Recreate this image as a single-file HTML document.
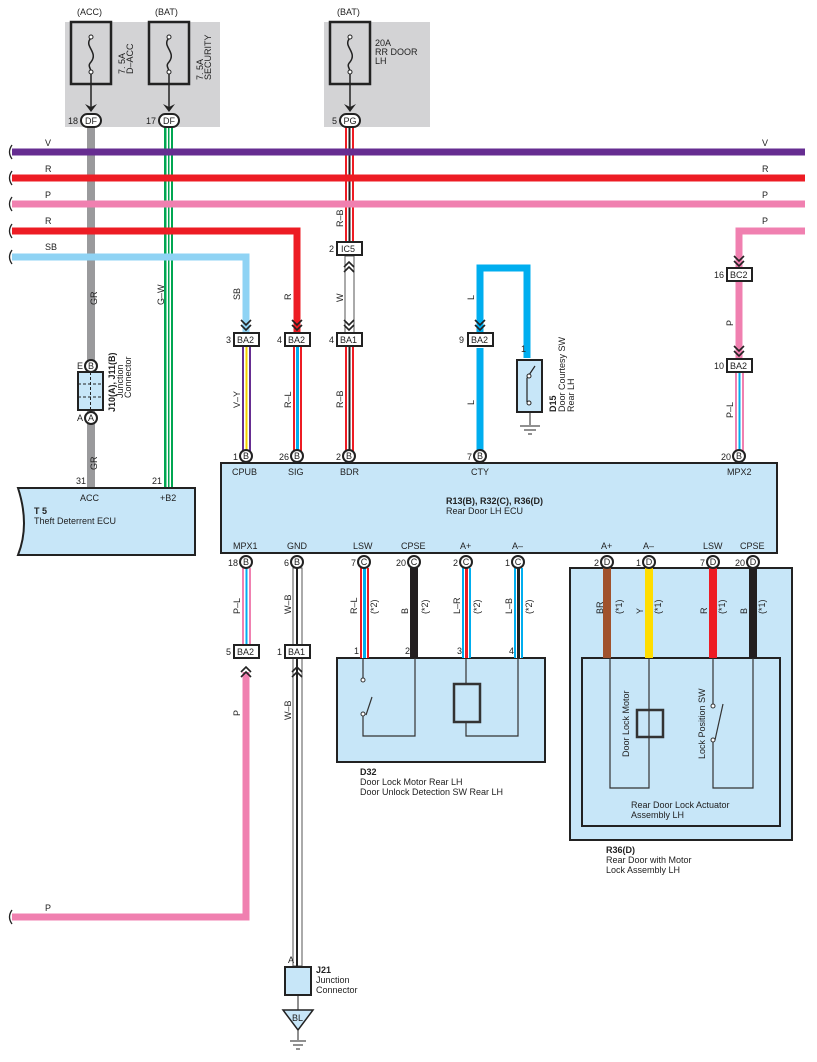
<!DOCTYPE html>
<html><head><meta charset="utf-8"><style>
html,body{margin:0;padding:0;background:#fff}
svg{display:block}
text{font-family:"Liberation Sans",sans-serif;font-size:9px;fill:#222}
.b{font-weight:bold}
</style></head><body>
<svg width="817" height="1062" viewBox="0 0 817 1062" xmlns="http://www.w3.org/2000/svg">
<!-- fuse gray areas -->
<rect x="65" y="22" width="155" height="105" fill="#d3d3d5"/>
<rect x="324" y="22" width="106" height="105" fill="#d3d3d5"/>
<g fill="none" stroke="#222" stroke-width="2.5">
<rect x="71" y="22" width="40" height="62"/>
<rect x="149" y="22" width="40" height="62"/>
<rect x="330" y="22" width="40" height="62"/>
</g>
<g fill="none" stroke="#222" stroke-width="1.5">
<path d="M91 38 c-8 8 8 14 0 24 c-4 4 0 6 0 10"/>
<path d="M169 38 c-8 8 8 14 0 24 c-4 4 0 6 0 10"/>
<path d="M350 38 c-8 8 8 14 0 24 c-4 4 0 6 0 10"/>
<line x1="91" y1="72" x2="91" y2="108"/><line x1="169" y1="72" x2="169" y2="108"/><line x1="350" y1="72" x2="350" y2="108"/>
</g>
<g fill="#fff" stroke="#222" stroke-width="1"><circle cx="91" cy="37" r="2"/><circle cx="91" cy="72" r="2"/><circle cx="169" cy="37" r="2"/><circle cx="169" cy="72" r="2"/><circle cx="350" cy="37" r="2"/><circle cx="350" cy="72" r="2"/></g>
<g fill="#222"><path d="M85 104 l6 8 6-8 -6 3z"/><path d="M163 104 l6 8 6-8 -6 3z"/><path d="M344 104 l6 8 6-8 -6 3z"/></g>
<text x="77" y="15">(ACC)</text><text x="155" y="15">(BAT)</text><text x="337" y="15">(BAT)</text>
<text transform="translate(125,74) rotate(-90)">7. 5A</text><text transform="translate(133,74) rotate(-90)">D–ACC</text>
<text transform="translate(203,80) rotate(-90)">7. 5A</text><text transform="translate(211,80) rotate(-90)">SECURITY</text>
<text x="375" y="46">20A</text><text x="375" y="55">RR DOOR</text><text x="375" y="64">LH</text>

<!-- vertical wires top -->
<rect x="87" y="126" width="8" height="362" fill="#9a9a9c"/>
<g><rect x="164" y="126" width="9" height="362" fill="#00a651"/><rect x="166.5" y="126" width="1.5" height="362" fill="#fff"/><rect x="169.5" y="126" width="1.5" height="362" fill="#fff"/></g>
<g><rect x="345" y="126" width="9" height="116" fill="#ed1c24"/><rect x="347" y="126" width="1.5" height="116" fill="#fff"/><rect x="350.5" y="126" width="1.5" height="116" fill="#fff"/><rect x="348.5" y="126" width="2" height="116" fill="#222"/></g>
<!-- horizontal wires -->
<g fill="none" stroke-width="7">
<path d="M12 152 H805" stroke="#662d91"/>
<path d="M12 178 H805" stroke="#ed1c24"/>
<path d="M12 204 H805" stroke="#f080b0"/>
<path d="M12 231 H297 V332" stroke="#ed1c24"/>
<path d="M12 257 H246 V332" stroke="#8fd3f4"/>
<path d="M805 231 H739 V268" stroke="#f080b0"/>
<path d="M739 282 V358" stroke="#f080b0"/>
<path d="M480 334 V268 H527 V358" stroke="#00aeef"/>
<path d="M480 348 V450" stroke="#00aeef"/>
</g>
<g fill="none" stroke="#222" stroke-width="1.3"><path d="M12 145 q-5 7 0 14 M12 171 q-5 7 0 14 M12 197 q-5 7 0 14 M12 224 q-5 7 0 14 M12 250 q-5 7 0 14"/></g>
<text x="762" y="146">V</text><text x="762" y="172">R</text><text x="762" y="198">P</text><text x="762" y="224">P</text>
<text x="45" y="146">V</text><text x="45" y="172">R</text><text x="45" y="198">P</text><text x="45" y="224">R</text><text x="45" y="250">SB</text>
<!-- W wire -->
<g><rect x="345" y="256" width="9" height="82" fill="#fff" stroke="#555" stroke-width="1"/></g>
<!-- lower wires -->
<g><rect x="242" y="346" width="9" height="106" fill="#662d91"/><rect x="244" y="346" width="5" height="106" fill="#fff"/><rect x="245.5" y="346" width="2" height="106" fill="#f5d000"/></g>
<g><rect x="293" y="346" width="9" height="106" fill="#ed1c24"/><rect x="295" y="346" width="5" height="106" fill="#fff"/><rect x="296" y="346" width="3" height="106" fill="#00aeef"/></g>
<g><rect x="345" y="346" width="9" height="106" fill="#ed1c24"/><rect x="347" y="346" width="5" height="106" fill="#fff"/><rect x="348.5" y="346" width="2" height="106" fill="#222"/></g>
<g><rect x="735" y="372" width="9" height="80" fill="#f080b0"/><rect x="737" y="372" width="5" height="80" fill="#fff"/><rect x="738.5" y="372" width="2" height="80" fill="#00aeef"/></g>
<g font-size="9">
<text transform="translate(97,305) rotate(-90)">GR</text><text transform="translate(97,470) rotate(-90)">GR</text>
<text transform="translate(164,305) rotate(-90)">G–W</text>
<text transform="translate(240,300) rotate(-90)">SB</text><text transform="translate(291,300) rotate(-90)">R</text>
<text transform="translate(343,227) rotate(-90)">R–B</text><text transform="translate(343,302) rotate(-90)">W</text>
<text transform="translate(240,408) rotate(-90)">V–Y</text><text transform="translate(291,408) rotate(-90)">R–L</text><text transform="translate(343,408) rotate(-90)">R–B</text>
<text transform="translate(474,300) rotate(-90)">L</text><text transform="translate(474,405) rotate(-90)">L</text>
<text transform="translate(733,326) rotate(-90)">P</text><text transform="translate(733,418) rotate(-90)">P–L</text>
</g>
<!-- D15 switch -->
<rect x="517" y="360" width="25" height="52" fill="#c7e6f8" stroke="#222" stroke-width="2"/>
<path d="M527 378 l8 -12 M527 402 V378" stroke="#222" fill="none" stroke-width="1.2"/>
<circle cx="529" cy="376" r="2" fill="#fff" stroke="#222"/><circle cx="529" cy="403" r="2" fill="#fff" stroke="#222"/>
<path d="M530 412 V425 M520 426 H540 M524 430 H536 M528 434 H532" stroke="#222" fill="none"/>
<text x="521" y="352">1</text>
<text class="b" transform="translate(556,412) rotate(-90)">D15</text>
<text transform="translate(565,412) rotate(-90)">Door Courtesy SW</text><text transform="translate(574,412) rotate(-90)">Rear LH</text>
<!-- J10 -->
<rect x="78" y="372" width="25" height="38" fill="#c7e6f8" stroke="#222" stroke-width="2"/>
<path d="M90.5 372 V410 M78 384 H103 M78 397 H103" stroke="#222" stroke-dasharray="3 2"/>
<text class="b" transform="translate(115,412) rotate(-90)">J10(A), J11(B)</text>
<text transform="translate(123,398) rotate(-90)">Junction</text><text transform="translate(131,398) rotate(-90)">Connector</text>
<!-- T5 -->
<path d="M18 488 H195 V555 H18 q12 -30 0 -67z" fill="#c7e6f8" stroke="#222" stroke-width="2"/>
<text x="80" y="501">ACC</text><text x="160" y="501">+B2</text><text class="b" x="34" y="514">T 5</text><text x="34" y="524">Theft Deterrent ECU</text>
<text x="76" y="484">31</text><text x="152" y="484">21</text>
<!-- ECU -->
<rect x="221" y="463" width="556" height="90" fill="#c7e6f8" stroke="#222" stroke-width="2"/>
<text class="b" x="446" y="504">R13(B), R32(C), R36(D)</text><text x="446" y="514">Rear Door LH ECU</text>
<text x="232" y="475">CPUB</text><text x="288" y="475">SIG</text><text x="340" y="475">BDR</text><text x="471" y="475">CTY</text><text x="727" y="475">MPX2</text>
<text x="233" y="549">MPX1</text><text x="287" y="549">GND</text><text x="353" y="549">LSW</text><text x="401" y="549">CPSE</text><text x="460" y="549">A+</text><text x="512" y="549">A–</text>
<text x="601" y="549">A+</text><text x="643" y="549">A–</text><text x="703" y="549">LSW</text><text x="740" y="549">CPSE</text>
<!-- R36 boxes -->
<rect x="570" y="568" width="222" height="272" fill="#c7e6f8" stroke="#222" stroke-width="2"/>
<rect x="582" y="658" width="198" height="168" fill="#c7e6f8" stroke="#222" stroke-width="2"/>
<rect x="337" y="658" width="208" height="104" fill="#c7e6f8" stroke="#222" stroke-width="2"/>
<!-- lower wires -->
<g><rect x="242" y="568" width="9" height="78" fill="#f080b0"/><rect x="244" y="568" width="5" height="78" fill="#fff"/><rect x="245.5" y="568" width="2" height="78" fill="#00aeef"/></g>
<g><rect x="293" y="568" width="9" height="78" fill="#fff" stroke="#555"/><rect x="296" y="568" width="2" height="78" fill="#222"/></g>
<g><rect x="293" y="658" width="9" height="308" fill="#fff" stroke="#555"/><rect x="296" y="658" width="2" height="308" fill="#222"/></g>
<path d="M246 672 V917 H12" stroke="#f080b0" stroke-width="7" fill="none"/>
<path d="M12 910 q-5 7 0 14" stroke="#222" fill="none" stroke-width="1.3"/>
<text x="45" y="911">P</text>
<g><rect x="360" y="568" width="9" height="90" fill="#ed1c24"/><rect x="362" y="568" width="5" height="90" fill="#fff"/><rect x="363" y="568" width="3" height="90" fill="#00aeef"/></g>
<rect x="410" y="568" width="8" height="90" fill="#231f20"/>
<g><rect x="462" y="568" width="9" height="90" fill="#00aeef"/><rect x="464" y="568" width="5" height="90" fill="#fff"/><rect x="465" y="568" width="3" height="90" fill="#ed1c24"/></g>
<g><rect x="514" y="568" width="9" height="90" fill="#00aeef"/><rect x="516" y="568" width="5" height="90" fill="#fff"/><rect x="517" y="568" width="3" height="90" fill="#222"/></g>
<rect x="603" y="568" width="8" height="90" fill="#a0522d"/>
<rect x="645" y="568" width="8" height="90" fill="#ffdd00"/>
<rect x="709" y="568" width="8" height="90" fill="#ed1c24"/>
<rect x="749" y="568" width="8" height="90" fill="#231f20"/>
<g>
<text transform="translate(240,614) rotate(-90)">P–L</text><text transform="translate(291,614) rotate(-90)">W–B</text>
<text transform="translate(240,716) rotate(-90)">P</text><text transform="translate(291,720) rotate(-90)">W–B</text>
<text transform="translate(357,614) rotate(-90)">R–L</text><text transform="translate(408,614) rotate(-90)">B</text><text transform="translate(460,614) rotate(-90)">L–R</text><text transform="translate(512,614) rotate(-90)">L–B</text>
<text transform="translate(377,614) rotate(-90)">(*2)</text><text transform="translate(428,614) rotate(-90)">(*2)</text><text transform="translate(480,614) rotate(-90)">(*2)</text><text transform="translate(532,614) rotate(-90)">(*2)</text>
<text transform="translate(603,614) rotate(-90)">BR</text><text transform="translate(643,614) rotate(-90)">Y</text><text transform="translate(707,614) rotate(-90)">R</text><text transform="translate(747,614) rotate(-90)">B</text>
<text transform="translate(622,614) rotate(-90)">(*1)</text><text transform="translate(661,614) rotate(-90)">(*1)</text><text transform="translate(725,614) rotate(-90)">(*1)</text><text transform="translate(765,614) rotate(-90)">(*1)</text>
</g>
<text x="354" y="654">1</text><text x="405" y="654">2</text><text x="457" y="654">3</text><text x="509" y="654">4</text>
<!-- D32 internals -->
<g fill="none" stroke="#333" stroke-width="1.2">
<path d="M363 658 V680 M363 714 V736 H415 V658 M366 715 L372 697"/>
<path d="M466 658 V684 M466 722 V736 H518 V658"/>
<rect x="454" y="684" width="26" height="38" stroke-width="2.5"/>
<path d="M610 658 V788 H649 V658"/><rect x="637" y="710" width="26" height="27" stroke-width="2.5"/>
<path d="M713 658 V705 M713 740 V788 H753 V658 M715 740 L723 704"/>
</g>
<g fill="#fff" stroke="#333"><circle cx="363" cy="680" r="2"/><circle cx="363" cy="714" r="2"/><circle cx="713" cy="706" r="2"/><circle cx="713" cy="740" r="2"/></g>
<text transform="translate(629,757) rotate(-90)">Door Lock Motor</text>
<text transform="translate(705,759) rotate(-90)">Lock Position SW</text>
<text x="631" y="808">Rear Door Lock Actuator</text><text x="631" y="818">Assembly LH</text>
<text class="b" x="360" y="775">D32</text><text x="360" y="785">Door Lock Motor Rear LH</text><text x="360" y="795">Door Unlock Detection SW Rear LH</text>
<text class="b" x="606" y="853">R36(D)</text><text x="606" y="863">Rear Door with Motor</text><text x="606" y="873">Lock Assembly LH</text>
<!-- J21 and ground -->
<rect x="285" y="967" width="26" height="28" fill="#c7e6f8" stroke="#222" stroke-width="2"/>
<text x="288" y="963">A</text>
<path d="M298 995 V1010" stroke="#222"/>
<path d="M283 1010 H313 L298 1030z" fill="#c7e6f8" stroke="#222" stroke-width="1.5"/>
<text x="292" y="1021" font-size="8">BL</text>
<path d="M298 1030 V1040 M290 1041 H306 M293 1045 H303 M296 1049 H300" stroke="#222"/>
<text class="b" x="316" y="973">J21</text><text x="316" y="983">Junction</text><text x="316" y="993">Connector</text>
<!-- arrow chevrons for in-line connectors -->
<g fill="none" stroke="#222" stroke-width="1.6">
<path d="M241 320 l5 5 5-5 M241 325 l5 5 5-5"/><path d="M292 320 l5 5 5-5 M292 325 l5 5 5-5"/>
<path d="M344 320 l5 5 5-5 M344 325 l5 5 5-5"/><path d="M475 320 l5 5 5-5 M475 325 l5 5 5-5"/>
<path d="M734 346 l5 5 5-5 M734 351 l5 5 5-5"/><path d="M734 256 l5 5 5-5 M734 261 l5 5 5-5"/>
<path d="M344 267 l5 -5 5 5 M344 272 l5 -5 5 5"/><path d="M241 672 l5 -5 5 5 M241 677 l5 -5 5 5"/><path d="M292 672 l5 -5 5 5 M292 677 l5 -5 5 5"/>
</g>
<!-- rect connectors -->
<g fill="#fff" stroke="#222" stroke-width="2">
<rect x="234" y="333" width="25" height="13"/><rect x="285" y="333" width="25" height="13"/><rect x="337" y="333" width="25" height="13"/><rect x="468" y="333" width="25" height="13"/>
<rect x="337" y="242" width="25" height="13"/><rect x="727" y="268" width="25" height="13"/><rect x="727" y="359" width="25" height="13"/>
<rect x="234" y="645" width="25" height="13"/><rect x="285" y="645" width="25" height="13"/>
</g>
<g font-size="9">
<text x="237" y="343">BA2</text><text x="288" y="343">BA2</text><text x="340" y="343">BA1</text><text x="471" y="343">BA2</text>
<text x="341" y="252">IC5</text><text x="730" y="278">BC2</text><text x="730" y="369">BA2</text>
<text x="237" y="655">BA2</text><text x="288" y="655">BA1</text>
<text x="226" y="343">3</text><text x="277" y="343">4</text><text x="329" y="343">4</text><text x="459" y="343">9</text>
<text x="329" y="252">2</text><text x="714" y="278">16</text><text x="714" y="369">10</text>
<text x="226" y="655">5</text><text x="277" y="655">1</text>
</g>
<!-- round connectors -->
<g fill="#fff" stroke="#222" stroke-width="2">
<rect x="81" y="114" width="20" height="13" rx="6.5"/><rect x="159" y="114" width="20" height="13" rx="6.5"/><rect x="340" y="114" width="20" height="13" rx="6.5"/>
<circle cx="91" cy="366" r="6"/><circle cx="91" cy="418" r="6"/>
<circle cx="246" cy="456" r="6"/><circle cx="297" cy="456" r="6"/><circle cx="349" cy="456" r="6"/><circle cx="480" cy="456" r="6"/><circle cx="739" cy="456" r="6"/>
<circle cx="246" cy="562" r="6"/><circle cx="297" cy="562" r="6"/><circle cx="364" cy="562" r="6"/><circle cx="414" cy="562" r="6"/><circle cx="466" cy="562" r="6"/><circle cx="518" cy="562" r="6"/>
<circle cx="607" cy="562" r="6"/><circle cx="649" cy="562" r="6"/><circle cx="713" cy="562" r="6"/><circle cx="753" cy="562" r="6"/>
</g>
<g font-size="8" text-anchor="middle">
<text x="91" y="124">DF</text><text x="169" y="124">DF</text><text x="350" y="124">PG</text>
<text x="91" y="369">B</text><text x="91" y="421">A</text>
<text x="246" y="459">B</text><text x="297" y="459">B</text><text x="349" y="459">B</text><text x="480" y="459">B</text><text x="739" y="459">B</text>
<text x="246" y="565">B</text><text x="297" y="565">B</text><text x="364" y="565">C</text><text x="414" y="565">C</text><text x="466" y="565">C</text><text x="518" y="565">C</text>
<text x="607" y="565">D</text><text x="649" y="565">D</text><text x="713" y="565">D</text><text x="753" y="565">D</text>
</g>
<g font-size="9" text-anchor="end">
<text x="78" y="124">18</text><text x="156" y="124">17</text><text x="337" y="124">5</text>
<text x="83" y="369">E</text><text x="83" y="421">A</text>
<text x="238" y="460">1</text><text x="289" y="460">26</text><text x="341" y="460">2</text><text x="472" y="460">7</text><text x="731" y="460">20</text>
<text x="238" y="566">18</text><text x="289" y="566">6</text><text x="356" y="566">7</text><text x="406" y="566">20</text><text x="458" y="566">2</text><text x="510" y="566">1</text>
<text x="599" y="566">2</text><text x="641" y="566">1</text><text x="705" y="566">7</text><text x="745" y="566">20</text>
</g>
</svg>
</body></html>
